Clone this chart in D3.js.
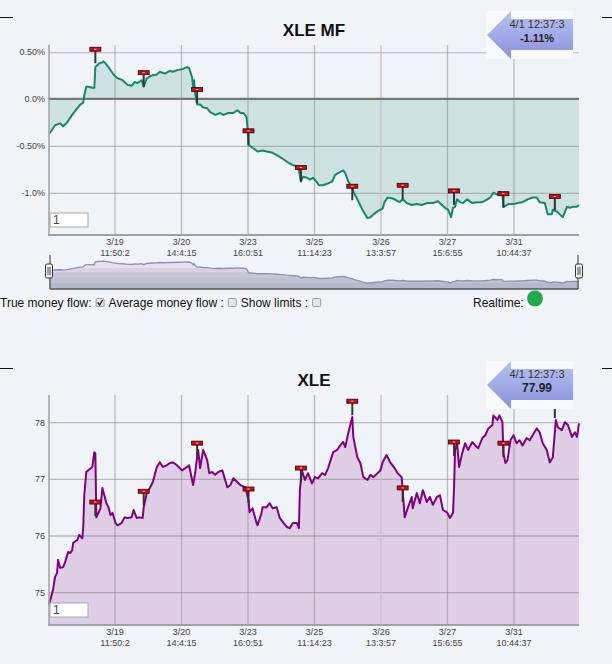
<!DOCTYPE html>
<html lang="en">
<head>
<meta charset="UTF-8" />
<title>XLE MF</title>
<script src="https://d3js.org/d3.v7.min.js"></script>
<style>
  html, body { margin: 0; padding: 0; background: #f0f3f7; }
  body { font-family: "Liberation Sans", Arial, sans-serif; }
  svg { display: block; }
  .tick text { font-family: "Liberation Sans", Arial, sans-serif; font-size: 9px; fill: #444; }
  .title { font-size: 17px; font-weight: bold; fill: #111; }
  .ctl { font-size: 12px; fill: #111; }
</style>
</head>
<body>
<svg id="chart" width="612" height="664"></svg>
<script>
// x axis: bar index, ticks every 66 bars
const lastBar = 526;
const tickBars = [65, 131, 197, 263, 329, 395, 461];
const tickDates = ["3/19", "3/20", "3/23", "3/25", "3/26", "3/27", "3/31"];
const tickTimes = ["11:50:2", "14:4:15", "16:0:51", "11:14:23", "13:3:57", "15:6:55", "10:44:37"];

// money flow (%)
const mfBars = [0,1,6,11,14,18,23,28,31,34,35,37,39,43,45,46,48,50,53,54,56,59,64,68,73,78,82,85,88,92,
  94,97,102,107,110,115,120,123,128,133,137,139,142,143,144,145,147,150,153,157,160,165,170,173,178,183,187,190,193,196,
  197,198,202,207,212,216,221,226,231,236,241,246,248,250,252,256,259,262,266,268,272,277,281,284,287,292,294,297,301,302,
  306,311,316,319,322,327,331,333,336,341,348,351,355,360,365,370,375,381,386,390,393,396,399,401,403,405,408,411,415,420,
  425,430,435,438,441,445,447,450,451,453,456,461,465,470,475,480,484,487,492,495,499,500,504,507,510,514,517,520,524,526];
const mfValues = [-0.36,-0.36,-0.28,-0.26,-0.29,-0.25,-0.17,-0.10,-0.06,-0.04,0.04,0.13,0.13,0.12,0.12,0.34,0.36,0.38,0.39,0.40,
  0.38,0.34,0.26,0.22,0.20,0.15,0.14,0.18,0.17,0.20,0.13,0.22,0.25,0.26,0.29,0.27,0.30,0.29,0.31,0.32,
  0.34,0.33,0.23,0.13,0.20,0.06,-0.06,-0.06,-0.09,-0.10,-0.14,-0.17,-0.15,-0.17,-0.15,-0.15,-0.12,-0.15,-0.15,-0.19,
  -0.31,-0.49,-0.52,-0.56,-0.55,-0.56,-0.57,-0.60,-0.63,-0.67,-0.70,-0.72,-0.76,-0.88,-0.83,-0.84,-0.86,-0.84,-0.89,-0.92,
  -0.92,-0.90,-0.88,-0.81,-0.79,-0.76,-0.79,-0.88,-0.94,-0.99,-1.07,-1.18,-1.27,-1.26,-1.23,-1.19,-1.17,-1.10,-1.05,-1.06,
  -1.10,-1.07,-1.11,-1.13,-1.12,-1.13,-1.11,-1.11,-1.09,-1.13,-1.16,-1.18,-1.26,-1.16,-1.15,-1.07,-1.10,-1.11,-1.07,-1.11,
  -1.10,-1.10,-1.07,-1.05,-1.00,-1.02,-0.99,-1.02,-1.15,-1.14,-1.12,-1.12,-1.11,-1.10,-1.07,-1.05,-1.05,-1.10,-1.11,-1.23,
  -1.23,-1.18,-1.20,-1.23,-1.26,-1.15,-1.16,-1.15,-1.15,-1.13];
const mfTicks = [0.5, 0, -0.5, -1.0];
const mfTickLabels = ["0.50%", "0.0%", "-0.50%", "-1.0%"];

// price
const pxBars = [0,4,6,8,9,11,14,16,18,19,21,23,24,28,30,33,34,35,37,39,43,45,46,47,49,51,53,54,57,59,
  61,63,66,68,72,75,78,82,84,87,90,93,94,97,100,103,107,110,113,117,120,123,127,132,137,139,143,145,147,148,
  150,153,157,159,162,165,168,172,174,177,180,183,187,190,195,198,199,202,206,207,211,212,216,219,222,226,229,232,236,239,
  242,246,248,249,251,254,257,261,264,267,271,274,277,282,286,289,292,294,297,301,302,306,309,312,316,319,322,326,329,331,
  335,339,343,346,350,351,353,356,360,361,365,368,371,375,378,381,385,388,391,395,398,401,402,403,405,407,410,413,416,420,
  423,426,430,433,436,440,441,445,447,450,451,453,455,458,461,464,467,470,474,477,480,484,487,490,494,497,500,503,505,509,
  512,515,519,522,524,526];
const pxValues = [74.78,75.04,75.27,75.34,75.57,75.43,75.44,75.53,75.65,75.71,75.69,75.74,75.87,75.92,76.01,75.95,76.15,76.71,77.12,77.15,
  77.21,77.47,77.45,76.32,76.40,76.48,76.84,76.77,76.57,76.50,76.36,76.40,76.22,76.18,76.22,76.32,76.31,76.32,76.45,76.31,
  76.32,76.31,76.50,76.75,76.84,76.94,77.21,77.29,77.21,77.24,77.28,77.29,77.24,77.15,77.21,77.24,76.89,77.10,77.38,77.51,
  77.19,77.51,77.33,77.10,77.12,77.07,77.12,77.15,77.03,76.85,76.89,77.01,76.94,76.89,76.85,76.62,76.41,76.48,76.22,76.18,
  76.40,76.50,76.50,76.57,76.48,76.50,76.31,76.24,76.15,76.13,76.22,76.22,76.13,76.80,77.15,76.98,77.10,76.92,77.03,77.01,
  77.10,77.07,77.19,77.47,77.51,77.59,77.65,77.56,77.81,78.09,77.74,77.38,77.28,77.03,76.98,77.07,77.03,77.10,77.15,77.29,
  77.42,77.28,77.19,77.10,77.03,76.80,76.32,76.48,76.68,76.48,76.75,76.57,76.80,76.59,76.68,76.54,76.68,76.71,76.45,76.41,
  76.31,76.40,76.85,77.51,77.63,77.21,77.45,77.63,77.51,77.65,77.59,77.54,77.72,77.77,77.89,77.95,78.12,78.04,78.12,78.00,
  77.45,77.28,77.33,77.68,77.77,77.63,77.68,77.59,77.72,77.68,77.77,77.89,77.82,77.63,77.51,77.29,77.38,78.04,77.91,77.86,
  78.00,77.95,77.74,77.82,77.74,77.98];
const pxTicks = [78, 77, 76, 75];
const pxTickLabels = ["78", "77", "76", "75"];

// event flags
const flagBars = [46, 94, 147, 198, 250, 301, 351, 402, 451, 502];
const mfFlagValues = [0.53, 0.28, 0.10, -0.34, -0.73, -0.93, -0.92, -0.98, -1.01, -1.04];
const pxFlagValues = [76.59, 76.78, 77.63, 76.82, 77.19, 78.37, 76.84, 77.65, 77.63, 78.32];

const lastTime = "4/1 12:37:3";
const mfLast = "-1.11%";
const pxLast = "77.99";

const svg = d3.select("#chart");
const defs = svg.append("defs");

const ag = defs.append("linearGradient").attr("id", "arrowGrad")
  .attr("x1", 0).attr("y1", 0).attr("x2", 0).attr("y2", 1);
ag.append("stop").attr("offset", 0).attr("stop-color", "#b9c0f0");
ag.append("stop").attr("offset", 0.5).attr("stop-color", "#a2aae8");
ag.append("stop").attr("offset", 1).attr("stop-color", "#8790da");

const ng = defs.append("linearGradient").attr("id", "navGrad")
  .attr("gradientUnits", "userSpaceOnUse")
  .attr("x1", 0).attr("y1", 255).attr("x2", 0).attr("y2", 289);
[[0, "#e3e4ed"], [0.38, "#e3e4ed"], [0.40, "#ddd0e2"], [0.5, "#ddd0e2"], [0.52, "#cbc6d6"],
 [0.65, "#cbc6d6"], [0.67, "#bfc2d2"], [0.82, "#bfc2d2"], [0.84, "#b3b9ca"], [1, "#b3b9ca"]]
  .forEach(([o, c]) => ng.append("stop").attr("offset", o).attr("stop-color", c));

const x = d3.scaleLinear().domain([0, lastBar]).range([49, 579]);

function drawPanel(p) {
  const y = d3.scaleLinear().domain(p.domain).range([p.bottom, p.top]);
  const g = svg.append("g");
  const pts = p.bars.map((b, i) => ({ t: b, v: p.values[i] }));
  const base = p.threshold === undefined ? p.bottom : y(p.threshold);

  // area
  g.append("path").datum(pts)
    .attr("fill", p.color).attr("fill-opacity", 0.15)
    .attr("d", d3.area().x((d) => x(d.t)).y0(base).y1((d) => y(d.v)));

  // grid
  g.append("g").attr("transform", "translate(49,0)")
    .call(d3.axisLeft(y).tickValues(p.ticks).tickSize(-530).tickFormat(""))
    .call((a) => a.select(".domain").remove())
    .selectAll("line")
    .attr("stroke", (d) => (d === p.lavTick ? "#c9b4d3" : "#8c8c8c"))
    .attr("stroke-opacity", (d) => (d === p.lavTick ? 0.9 : 0.55))
    .attr("stroke-width", 1.3);
  g.append("g").attr("transform", `translate(0,${p.bottom})`)
    .call(d3.axisBottom(x).tickValues(tickBars).tickSize(-(p.bottom - p.top)).tickFormat(""))
    .call((a) => a.select(".domain").remove())
    .selectAll("line")
    .attr("stroke", (d) => (d === tickBars[4] ? "#c9b4d3" : "#8c8c8c"))
    .attr("stroke-opacity", (d) => (d === tickBars[4] ? 0.9 : 0.55))
    .attr("stroke-width", 1.3);

  if (p.threshold !== undefined) {
    g.append("line").attr("x1", 49).attr("x2", 579)
      .attr("y1", y(p.threshold)).attr("y2", y(p.threshold))
      .attr("stroke", "#777").attr("stroke-width", 2.2);
  }

  // series line
  g.append("path").datum(pts)
    .attr("fill", "none").attr("stroke", p.color).attr("stroke-width", 2)
    .attr("stroke-linejoin", "round")
    .attr("d", d3.line().x((d) => x(d.t)).y((d) => y(d.v)));

  // flags
  const fl = g.append("g").selectAll("g")
    .data(flagBars.map((b, i) => ({ t: b, v: p.flags[i] })))
    .join("g")
    .attr("transform", (d) => `translate(${x(d.t)},${y(d.v)})`);
  fl.append("line").attr("y1", 2).attr("y2", 14).attr("stroke", "#333").attr("stroke-width", 2);
  fl.append("rect").attr("x", -5.5).attr("y", -2).attr("width", 11).attr("height", 4)
    .attr("fill", "#e8000b").attr("stroke", "#111").attr("stroke-width", 0.8);
  fl.append("line").attr("x1", -1.2).attr("x2", 1.2).attr("stroke", "#fff").attr("stroke-width", 0.8);

  // axis lines
  g.append("line").attr("x1", 49).attr("x2", 49).attr("y1", p.top).attr("y2", p.bottom)
    .attr("stroke", "#a0a0a0").attr("stroke-width", 1.5);
  g.append("line").attr("x1", 48).attr("x2", 579).attr("y1", p.bottom).attr("y2", p.bottom)
    .attr("stroke", "#a0a0a0").attr("stroke-width", 2);

  // y labels
  g.append("g").attr("transform", "translate(49,0)")
    .call(d3.axisLeft(y).tickValues(p.ticks).tickSize(0).tickPadding(4)
      .tickFormat((d, i) => p.tickLabels[i]))
    .call((a) => a.select(".domain").remove());

  // x labels (two lines)
  g.append("g").attr("transform", `translate(0,${p.bottom})`)
    .call(d3.axisBottom(x).tickValues(tickBars).tickSize(0).tickPadding(3.5).tickFormat(""))
    .call((a) => a.select(".domain").remove())
    .selectAll(".tick text")
    .each(function (d, i) {
      const t = d3.select(this);
      t.append("tspan").attr("x", 0).text(tickDates[i]);
      t.append("tspan").attr("x", 0).attr("dy", "1.18em").text(tickTimes[i]);
    });

  // title
  svg.append("text").attr("class", "title").attr("x", 314).attr("y", p.top - 9)
    .attr("text-anchor", "middle").text(p.title);

  // range input box
  svg.append("rect").attr("x", 50).attr("y", p.bottom - 22).attr("width", 38).attr("height", 14)
    .attr("fill", "#fff").attr("stroke", "#a8a8a8");
  svg.append("text").attr("x", 53).attr("y", p.bottom - 11).attr("font-size", 12)
    .attr("fill", "#444").text("1");

  // last value flag
  const bt = p.boxTop;
  svg.append("rect").attr("x", 486).attr("y", bt).attr("width", 87).attr("height", 48).attr("fill", "#f7f9fc");
  svg.append("path")
    .attr("d", `M487,${bt + 24} L511,${bt} L511,${bt + 8} L573,${bt + 8} L573,${bt + 39} L511,${bt + 39} L511,${bt + 48} Z`)
    .attr("fill", "url(#arrowGrad)");
  svg.append("text").attr("x", 537).attr("y", bt + 17).attr("text-anchor", "middle")
    .attr("font-size", 11).attr("fill", "#333").text(lastTime);
  svg.append("text").attr("x", 537).attr("y", bt + 31).attr("text-anchor", "middle")
    .attr("font-size", p.boxSize).attr("font-weight", "bold").attr("fill", "#222").text(p.last);

  // small dashes at corners
  svg.append("line").attr("x1", 0).attr("x2", 13).attr("y1", p.dashY).attr("y2", p.dashY).attr("stroke", "#111");
  svg.append("line").attr("x1", 602).attr("x2", 612).attr("y1", p.dashY).attr("y2", p.dashY).attr("stroke", "#111");
}

drawPanel({
  title: "XLE MF", top: 45, bottom: 235, domain: [-1.45, 0.575],
  bars: mfBars, values: mfValues, flags: mfFlagValues, threshold: 0,
  ticks: mfTicks, tickLabels: mfTickLabels, lavTick: 0.5,
  color: "#14896a", boxTop: 11, last: mfLast, boxSize: 11, dashY: 17.5,
});

drawPanel({
  title: "XLE", top: 395, bottom: 625, domain: [74.42, 78.48],
  bars: pxBars, values: pxValues, flags: pxFlagValues,
  ticks: pxTicks, tickLabels: pxTickLabels,
  color: "#800080", boxTop: 361, last: pxLast, boxSize: 12, dashY: 368.5,
});

// navigator
const ny = d3.scaleLinear().domain([-1.72, 0.86]).range([289, 255]);
const nav = svg.append("g");
const navPts = mfBars.map((b, i) => ({ t: b, v: mfValues[i] }));
nav.append("path").datum(navPts).attr("fill", "url(#navGrad)")
  .attr("d", d3.area().x((d) => x(d.t)).y0(289).y1((d) => ny(d.v)));
nav.append("path").datum(navPts).attr("fill", "none").attr("stroke", "#8b95b2").attr("stroke-width", 1.4)
  .attr("d", d3.line().x((d) => x(d.t)).y((d) => ny(d.v)));
nav.append("line").attr("x1", 50).attr("x2", 578).attr("y1", 289).attr("y2", 289).attr("stroke", "#555").attr("stroke-width", 1.5);
[50, 578].forEach((hx) => {
  nav.append("line").attr("x1", hx).attr("x2", hx).attr("y1", 255).attr("y2", 289).attr("stroke", "#555").attr("stroke-width", 1.2);
});
[49, 579].forEach((hx) => {
  nav.append("rect").attr("x", hx - 3.5).attr("y", 264).attr("width", 7).attr("height", 14).attr("rx", 1.5)
    .attr("fill", "#f2f2f2").attr("stroke", "#333").attr("stroke-width", 1);
  [-1, 1].forEach((o) => nav.append("line").attr("x1", hx + o).attr("x2", hx + o)
    .attr("y1", 267).attr("y2", 275).attr("stroke", "#333").attr("stroke-width", 0.9));
});

// controls row
const ctl = svg.append("g");
const controls = [
  { label: "True money flow:", checked: true },
  { label: "Average money flow :", checked: false },
  { label: "Show limits :", checked: false },
];
let cx = 0;
controls.forEach((c) => {
  const t = ctl.append("text").attr("class", "ctl").attr("x", cx).attr("y", 307).text(c.label);
  cx += t.node().getComputedTextLength() + 4.5;
  ctl.append("rect").attr("x", cx).attr("y", 298.5).attr("width", 8).attr("height", 8).attr("rx", 1)
    .attr("fill", "#e9e3ee").attr("stroke", "#8a8a8a").attr("stroke-width", 0.8);
  if (c.checked) {
    ctl.append("path").attr("d", `M${cx + 1.5},${302.5} l2,2.5 l3,-5`)
      .attr("fill", "none").attr("stroke", "#222").attr("stroke-width", 1.4);
  }
  cx += 8 + 4.5;
});
ctl.append("text").attr("class", "ctl").attr("x", 473).attr("y", 307).text("Realtime:");
ctl.append("rect").attr("x", 526).attr("y", 295).attr("width", 18).attr("height", 13).attr("fill", "#fff");
ctl.append("circle").attr("cx", 535).attr("cy", 298.5).attr("r", 8).attr("fill", "#22aa4a");
</script>
</body>
</html>
